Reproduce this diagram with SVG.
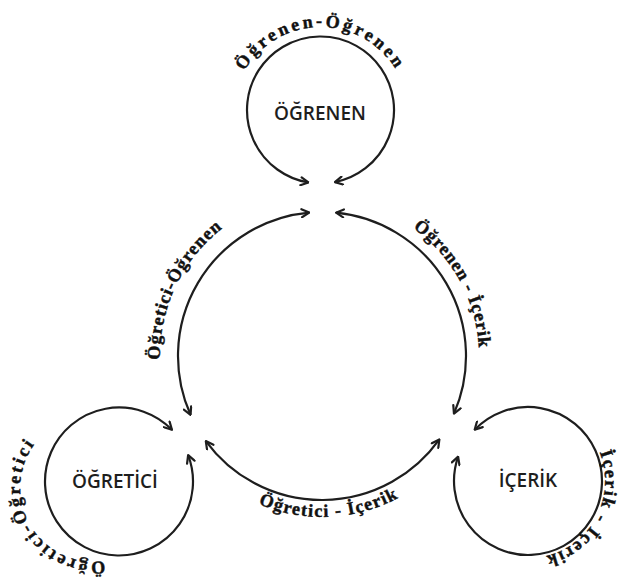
<svg xmlns="http://www.w3.org/2000/svg" width="623" height="587" viewBox="0 0 623 587">
  <style>
    .arc { fill: none; stroke: #1e1e1e; stroke-width: 2.2; marker-start: url(#arr); marker-end: url(#arr); }
    .node-label { font-family: "Open Sans", "Liberation Sans", sans-serif; font-weight: 600; font-size: 19px; fill: #1e1e1e; text-anchor: middle; }
    .curve-label { font-family: "Liberation Serif", "DejaVu Serif", serif; font-weight: bold; font-size: 18px; fill: #111; stroke: #111; stroke-width: 0.45; }
  </style>
  <defs>
    <marker id="arr" viewBox="0 0 10 10" refX="9" refY="5" markerWidth="10" markerHeight="10" markerUnits="userSpaceOnUse" orient="auto-start-reverse">
      <path d="M1.5,1 L9,5 L1.5,9" fill="none" stroke="#1e1e1e" stroke-width="2.2" stroke-linecap="round" stroke-linejoin="round"/>
    </marker>
    <path id="tp-top" d="M232.84,107.33 A88,88 0 0 1 408.16,107.33"/>
    <path id="tp-tl" d="M188.5,447.76 A162,162 0 0 1 309.29,194.5"/>
    <path id="tp-tr" d="M325.56,199.04 A157,157 0 0 1 456.15,437.57"/>
    <path id="tp-bot" d="M186.52,442.98 A161,161 0 0 0 465.07,429.84"/>
    <path id="tp-bl" d="M130.21,552.53 A74,74 0 0 1 55.56,424.77"/>
    <path id="tp-br" d="M565.33,413.65 A77,77 0 0 1 493.04,549.61"/>
  </defs>
  <rect width="623" height="587" fill="#ffffff"/>

  <g id="connectors">
    <path id="self-ogrenen" class="arc" d="M308.37,182.49 A73.5,73.5 0 1 1 334.9,182.08"/>
    <path id="self-ogretici" class="arc" d="M171.96,429.82 A74,74 0 1 0 188.13,455.1"/>
    <path id="self-icerik" class="arc" d="M474.65,429.72 A74,74 0 1 1 458.12,456.66"/>
    <path id="ogretici-ogrenen" class="arc" d="M309.2,212.57 A144,144 0 0 0 190.55,414.8"/>
    <path id="ogrenen-icerik" class="arc" d="M336.05,212.69 A144,144 0 0 1 453.96,413.65"/>
    <path id="ogretici-icerik" class="arc" d="M205.8,441.05 A144,144 0 0 0 439.38,439.42"/>
    <text class="curve-label" font-size="22" letter-spacing="3"><textPath href="#tp-top" startOffset="50%" text-anchor="middle">Öğrenen-Öğrenen</textPath></text>
    <text class="curve-label" letter-spacing="1"><textPath href="#tp-tl" startOffset="50%" text-anchor="middle">Öğretici-Öğrenen</textPath></text>
    <text class="curve-label" letter-spacing="0.9"><textPath href="#tp-tr" startOffset="50%" text-anchor="middle">Öğrenen - İçerik</textPath></text>
    <text class="curve-label" letter-spacing="1.3"><textPath href="#tp-bot" startOffset="50%" text-anchor="middle">Öğretici - İçerik</textPath></text>
    <text class="curve-label" font-size="20" letter-spacing="2.6"><textPath href="#tp-bl" startOffset="50%" text-anchor="middle">Öğretici-Öğretici</textPath></text>
    <text class="curve-label" font-size="20" letter-spacing="1.8"><textPath href="#tp-br" startOffset="50%" text-anchor="middle">İçerik - İçerik</textPath></text>
  </g>

  <g id="node-ogrenen">
    <text class="node-label" x="320" y="119.5">ÖĞRENEN</text>
  </g>
  <g id="node-ogretici">
    <text class="node-label" x="115" y="488">ÖĞRETİCİ</text>
  </g>
  <g id="node-icerik">
    <text class="node-label" x="528" y="487">İÇERİK</text>
  </g>
</svg>
